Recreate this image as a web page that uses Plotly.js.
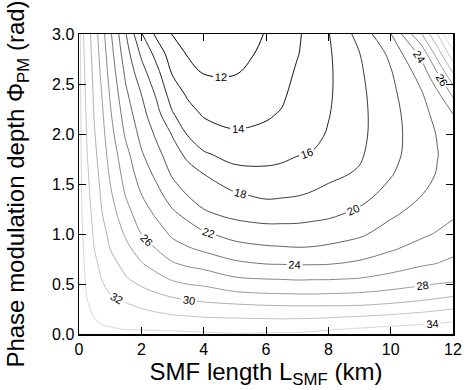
<!DOCTYPE html>
<html>
<head>
<meta charset="utf-8">
<script src="https://cdn.plot.ly/plotly-3.0.1.min.js"></script>
<style>html,body{margin:0;padding:0;background:#fff;}#chart{width:467px;height:390px;}</style>
</head>
<body>
<div id="chart"></div>
<script>
// SMF length (km) grid columns
var lengthKm = [0, 0.1, 0.25, 0.5, 0.75, 1, 1.5, 2, 2.5, 3, 3.5, 4, 5, 6, 6.5, 7, 7.5, 8, 9, 10, 11, 11.5, 12];
// Phase modulation depth (rad) grid rows
var depthRad = [0, 0.05, 0.1, 0.2, 0.3, 0.4, 0.55, 0.7, 0.85, 1.0, 1.2, 1.4, 1.6, 1.8, 2.0, 2.2, 2.4, 2.6, 2.8, 3.0];
// values, one row per depth
var r000 = [35.3,35.3,35.2,35.1,35.0,34.9,34.8,34.7,34.6,34.5,34.4,34.3,34.1,34.15,34.2,34.25,34.4,34.6,35.0,35.3,35.6,35.75,35.9];
var r005 = [35.3,35.2,35.0,34.8,34.5,34.2,33.9,33.8,33.75,33.7,33.6,33.5,33.45,33.5,33.45,33.4,33.6,33.8,34.15,34.5,34.8,34.95,35.1];
var r010 = [35.3,35.15,34.8,34.3,33.9,33.75,33.55,33.4,33.2,33.0,32.95,32.85,32.8,32.75,32.75,32.8,32.85,33.0,33.3,33.6,33.9,34.1,34.3];
var r020 = [35.3,35.0,34.45,33.8,33.5,33.2,32.8,32.5,32.2,31.9,31.75,31.6,31.45,31.35,31.3,31.3,31.35,31.4,31.6,31.9,32.3,32.55,32.8];
var r030 = [35.3,34.9,34.15,33.5,33.0,32.6,32.1,31.6,31.15,30.8,30.5,30.25,30.0,29.8,29.75,29.7,29.7,29.7,29.75,30.1,30.55,30.85,31.2];
var r040 = [35.3,34.8,33.9,33.2,32.55,32.0,31.35,30.65,30.1,29.6,29.2,29.0,28.35,28.1,28.05,28.0,28.0,28.05,28.2,28.55,29.0,29.3,29.6];
var r055 = [35.3,34.6,33.65,32.8,31.9,31.35,30.2,29.35,28.6,27.8,27.35,27.1,26.25,26.0,25.95,25.85,25.9,25.9,26.1,26.6,27.2,27.4,27.6];
var r070 = [35.3,34.45,33.45,32.35,31.5,30.7,29.35,28.15,27.2,26.2,25.7,25.35,24.4,24.0,23.95,23.9,23.9,23.95,24.35,25.1,25.8,26.05,26.45];
var r085 = [35.3,34.3,33.25,31.95,31.0,30.0,28.55,27.1,25.95,24.85,24.2,23.7,22.8,22.35,22.25,22.15,22.2,22.4,22.95,23.8,24.7,25.1,25.5];
var r100 = [35.3,34.15,33.05,31.7,30.6,29.55,27.75,26.0,24.95,23.65,23.0,22.3,21.3,20.9,20.85,20.85,20.95,21.1,21.7,22.8,23.7,24.15,24.65];
var r120 = [35.3,33.95,32.8,31.4,30.0,28.95,26.75,25.0,23.65,22.35,21.45,20.3,19.5,19.15,19.2,19.25,19.45,19.65,20.4,21.7,22.75,23.25,23.75];
var r140 = [35.3,33.8,32.55,31.05,29.6,28.3,25.85,24.0,22.55,21.0,19.85,19.1,18.15,17.6,17.7,17.85,18.15,18.45,19.3,20.6,21.95,22.55,23.2];
var r160 = [35.3,33.6,32.35,30.75,29.25,27.75,25.2,23.1,21.5,19.75,18.8,18.0,16.6,16.4,16.55,16.8,17.1,17.6,18.2,19.85,21.4,22.1,22.85];
var r180 = [35.3,33.4,32.1,30.4,28.9,27.25,24.6,22.2,20.55,18.85,17.5,16.2,15.35,15.4,15.55,15.9,16.1,16.9,17.75,19.4,21.15,21.95,22.8];
var r200 = [35.3,33.2,31.95,30.1,28.55,26.75,23.7,21.45,19.6,17.85,15.8,14.9,14.2,14.45,14.8,15.45,15.5,16.15,17.55,19.25,21.2,22.1,23.1];
var r220 = [35.3,33.05,31.75,29.8,28.2,26.25,23.05,20.7,18.6,16.15,14.7,13.8,13.4,13.75,14.15,15.05,15.15,15.9,17.5,19.3,21.4,22.6,24.0];
var r240 = [35.3,32.9,31.6,29.6,27.85,25.8,22.35,20.0,17.65,15.0,13.7,12.95,12.65,13.2,13.65,14.65,14.95,15.75,17.55,19.5,21.85,23.6,26.4];
var r260 = [35.3,32.75,31.4,29.4,27.45,25.3,21.65,18.85,16.6,13.9,12.7,12.0,11.95,12.75,13.35,14.25,14.8,15.7,17.7,19.8,22.8,25.8,29.8];
var r280 = [35.3,32.6,31.2,29.15,27.05,24.85,20.85,17.7,15.3,12.85,11.85,11.35,11.35,12.4,13.1,13.9,14.75,15.75,17.95,20.4,24.6,28.85,33.3];
var r300 = [35.3,32.45,31.0,28.9,26.67,24.36,20.1,16.15,13.5,11.9,11.2,10.85,10.9,12.1,12.95,13.7,14.8,15.9,18.7,21.9,28.0,32.0,37.0];
var widthRows = [r000,r005,r010,r020,r030,r040,r055,r070,r085,r100,r120,r140,r160,r180,r200,r220,r240,r260,r280,r300];
var xTicks = [0, 2, 4, 6, 8, 10, 12];
var yTicks = [0.0, 0.5, 1.0, 1.5, 2.0, 2.5, 3.0];

var fontFam = 'Liberation Sans, Arial, Helvetica, sans-serif';
var trace = {
  type: 'contour',
  x: lengthKm,
  y: depthRad,
  z: widthRows,
  zauto: false, zmin: 12, zmax: 34,
  colorscale: [[0, 'rgb(0,0,0)'], [1, 'rgb(215,215,215)']],
  showscale: false,
  contours: {
    coloring: 'lines', start: 12, end: 34, size: 2,
    showlabels: true,
    labelfont: {family: fontFam, size: 11, color: '#000'}
  },
  line: {width: 1, smoothing: 1.0},
  hoverinfo: 'skip'
};
var axisCommon = {
  ticks: 'inside', ticklen: 7, tickwidth: 1, tickcolor: '#000',
  showline: true, linecolor: '#000', linewidth: 1.5, mirror: 'ticks',
  showgrid: false, zeroline: false,
  tickfont: {family: fontFam, size: 16, color: '#000'}
};
var layout = {
  width: 467, height: 390,
  margin: {l: 79, r: 14, t: 34, b: 56},
  paper_bgcolor: '#fff', plot_bgcolor: '#fff',
  showlegend: false,
  xaxis: Object.assign({}, axisCommon, {
    range: [0, 12], tickvals: xTicks,
    title: {text: 'SMF length L<sub>SMF</sub> (km)', font: {family: fontFam, size: 24, color: '#000'}, standoff: 3}
  }),
  yaxis: Object.assign({}, axisCommon, {
    range: [0, 3], tickvals: yTicks, tickformat: '.1f',
    title: {text: 'Phase modulation depth \u03A6<sub>PM</sub> (rad)', font: {family: fontFam, size: 24, color: '#000'}, standoff: 20}
  })
};
Plotly.newPlot('chart', [trace], layout, {staticPlot: true, displayModeBar: false});
</script>
</body>
</html>
